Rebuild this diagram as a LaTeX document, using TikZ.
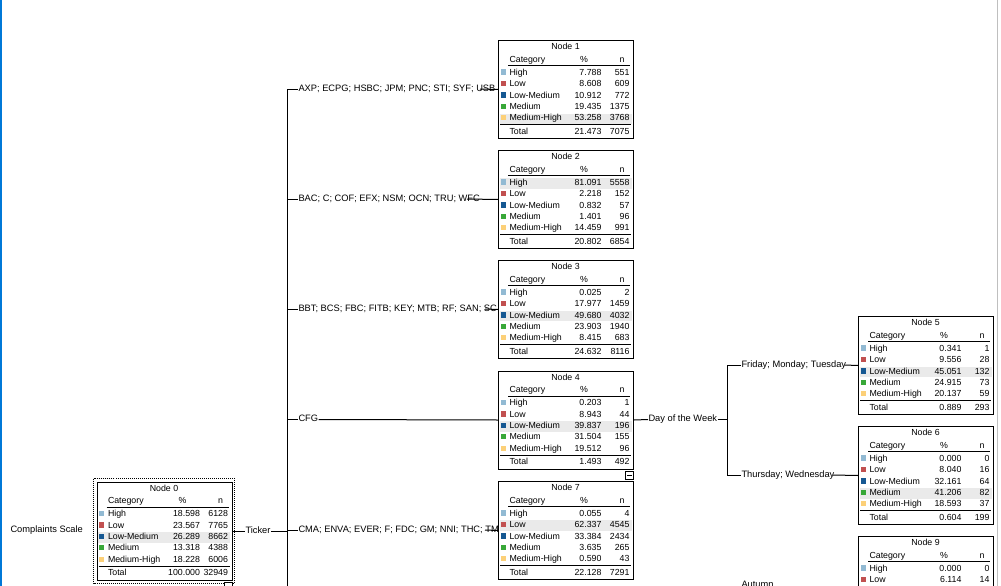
\documentclass[tikz,border=0pt]{standalone}
\usepackage{fontspec}
\setmainfont{Liberation Sans}
\usetikzlibrary{positioning,calc}

\definecolor{catHigh}{RGB}{146,186,211}
\definecolor{catLow}{RGB}{193,80,80}
\definecolor{catLowMed}{RGB}{22,88,146}
\definecolor{catMed}{RGB}{56,168,56}
\definecolor{catMedHigh}{RGB}{252,208,120}
\definecolor{modalgray}{RGB}{234,234,234}
\definecolor{winblue}{RGB}{0,120,215}

\tikzset{
  catframe/.style={draw, fill=white, anchor=north west, minimum width=135pt, minimum height=98pt, inner sep=0pt},
  celltxt/.style={inner sep=0pt, font=\fontsize{8.8}{10}\selectfont, text height=6.3pt, text depth=1.8pt},
  lefttxt/.style={celltxt, anchor=west},
  righttxt/.style={celltxt, anchor=east},
  branch/.style={inner sep=0pt, anchor=west, font=\fontsize{9.3}{10}\selectfont, text height=6.6pt, text depth=1.8pt},
  collapse/.style={draw, fill=white, minimum size=8pt, inner sep=0pt, anchor=north east,
    path picture={\draw ([xshift=1.5pt]path picture bounding box.west) -- ([xshift=-1.5pt]path picture bounding box.east);}}
}

% #1 name, #2 top left, #3 node number, #4 modal row, #5 pct/n list (total last)
\newcommand{\catbox}[5]{%
  \node[catframe] (#1) at #2 {};
  \begin{scope}[shift={#2}]
    \ifnum#4>0
      \fill[modalgray] (1.5,{28+11.4*(#4-1)}) rectangle (133.5,{38.5+11.4*(#4-1)});
    \fi
    \node[celltxt] at (67.5,7.5) {Node #3};
    \node[lefttxt] at (11,20) {Category};
    \node[celltxt] at (86,20) {\%};
    \node[celltxt] at (124,20) {n};
    \draw (10,25.5) -- (132,25.5);
    \foreach \cat/\col [count=\i] in {High/catHigh, Low/catLow, Low-Medium/catLowMed, Medium/catMed, Medium-High/catMedHigh} {
      \pgfmathsetmacro{\ry}{33+11.4*(\i-1)}
      \fill[\col] (2.5,{\ry-3.6}) rectangle (7.8,{\ry+1.7});
      \node[lefttxt] at (11,\ry) {\cat};
    }
    \draw (2,84.5) -- (133,84.5);
    \node[lefttxt] at (11,92) {Total};
    \foreach \pct/\cnt [count=\i] in {#5} {
      \ifnum\i<6 \pgfmathsetmacro{\ry}{33+11.4*(\i-1)}\else\def\ry{92}\fi
      \node[righttxt] at (104,\ry) {\pct};
      \node[righttxt] at (132,\ry) {\cnt};
    }
  \end{scope}
}

\begin{document}
\begin{tikzpicture}[x=1pt, y=-1pt, line width=1pt]
\useasboundingbox (0,0) rectangle (1001,586);
\clip (0,0) rectangle (1001,586);

% window edges
\draw[winblue, line width=1.5pt] (0.75,0) -- (0.75,586);
\draw[gray!50] (997.5,0) -- (997.5,586);

% labels
\node[branch] (target) at (10,530) {Complaints Scale};
\node[branch] (ticker) at (245,531) {Ticker};
\node[branch] (b1) at (298,89) {AXP; ECPG; HSBC; JPM; PNC; STI; SYF; USB};
\node[branch] (b2) at (298,199) {BAC; C; COF; EFX; NSM; OCN; TRU; WFC};
\node[branch] (b3) at (298,309) {BBT; BCS; FBC; FITB; KEY; MTB; RF; SAN; SC};
\node[branch] (b4) at (298,419.5) {CFG};
\node[branch] (b7) at (298,530) {CMA; ENVA; EVER; F; FDC; GM; NNI; THC; TM};
\node[branch] (day) at (648,419.5) {Day of the Week};
\node[branch] (fri) at (741,365) {Friday; Monday; Tuesday};
\node[branch] (thu) at (741,475) {Thursday; Wednesday};
\node[branch] (aut) at (741,585.5) {Autumn};

% nodes
\catbox{n0}{(96.5,481.5)}{0}{3}{18.598/6128, 23.567/7765, 26.289/8662, 13.318/4388, 18.228/6006, 100.000/32949}
\catbox{n1}{(498,40)}{1}{5}{7.788/551, 8.608/609, 10.912/772, 19.435/1375, 53.258/3768, 21.473/7075}
\catbox{n2}{(498,150)}{2}{1}{81.091/5558, 2.218/152, 0.832/57, 1.401/96, 14.459/991, 20.802/6854}
\catbox{n3}{(498,260)}{3}{3}{0.025/2, 17.977/1459, 49.680/4032, 23.903/1940, 8.415/683, 24.632/8116}
\catbox{n4}{(498,370.5)}{4}{3}{0.203/1, 8.943/44, 39.837/196, 31.504/155, 19.512/96, 1.493/492}
\catbox{n7}{(498,481)}{7}{2}{0.055/4, 62.337/4545, 33.384/2434, 3.635/265, 0.590/43, 22.128/7291}
\catbox{n5}{(858,316)}{5}{3}{0.341/1, 9.556/28, 45.051/132, 24.915/73, 20.137/59, 0.889/293}
\catbox{n6}{(858,426)}{6}{4}{0.000/0, 8.040/16, 32.161/64, 41.206/82, 18.593/37, 0.604/199}
\catbox{n9}{(858,536)}{9}{0}{0.000/0, 6.114/14}

% selection and collapse boxes
\draw[dash pattern=on 1pt off 1pt] ([shift={(-3pt,3pt)}]n0.north west) rectangle ([shift={(2pt,-2.5pt)}]n0.south east);
\node[collapse] (c0) at ([yshift=-1pt]n0.south east) {};
\node[collapse] (c4) at ([yshift=-1.5pt]n4.south east) {};

% split on Ticker
\coordinate (tickx) at (287,0);
\coordinate (tickB) at (287,586);
\draw (n0.east) -- (ticker.west);
\draw (ticker.east) -- (ticker.east -| tickx);
\draw (b1.west -| tickx) -- (tickB);
\foreach \b/\n/\gap in {b1/n1/182, b2/n2/169, b3/n3/187, b7/n7/187} {
  \draw (\b.west -| tickx) -- (\b.west);
  \draw ([xshift=\gap pt]\b.west) -- (\n.west);
}
\draw (b4.west -| tickx) -- (b4.west);
\draw (b4.east) -- (n4.west);

% split on Day of the Week
\coordinate (dayx) at (727,0);
\draw (n4.east) -- (day.west);
\draw (day.east) -- (day.east -| dayx);
\draw (fri.west -| dayx) -- (thu.west -| dayx);
\draw (fri.west -| dayx) -- (fri.west);
\draw (thu.west -| dayx) -- (thu.west);
\draw ([xshift=-2pt]fri.east) -- (n5.west);
\draw ([xshift=-2pt]thu.east) -- (n6.west);
\end{tikzpicture}
\end{document}
